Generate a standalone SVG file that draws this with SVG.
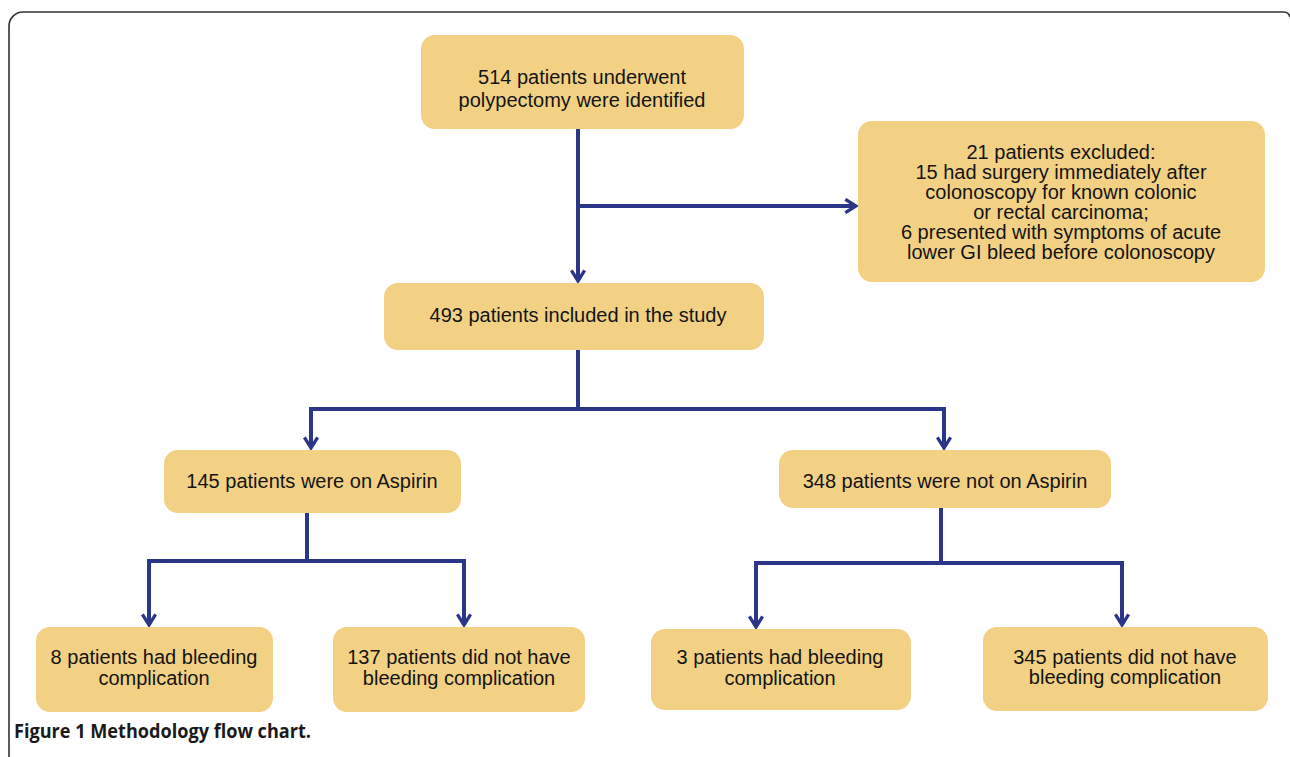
<svg xmlns="http://www.w3.org/2000/svg" width="1290" height="757" viewBox="0 0 1290 757">
<style>
.box{fill:#f2d184;}
.t{font-family:"Liberation Sans",Arial,sans-serif;font-size:20px;fill:#141414;text-anchor:middle;}
.c{fill:none;stroke:#2c3688;stroke-width:4;}
.cap{font-family:"Open Sans","Liberation Sans",sans-serif;font-size:20px;fill:#1a1a1a;font-weight:700;}
</style>
<defs>
<marker id="ah" viewBox="0 0 12 12" refX="10" refY="6" markerWidth="4" markerHeight="4" markerUnits="strokeWidth" orient="auto">
<path d="M2,1 L10,6 L2,11" fill="none" stroke="#2c3688" stroke-width="2.5" stroke-linejoin="miter"/>
</marker>
</defs>
<rect width="1290" height="757" fill="#ffffff"/>
<path d="M9,757 V26 A14,14 0 0 1 23,12 H1283 A7,7 0 0 1 1290,17" fill="none" stroke="#333" stroke-width="1.6"/>

<g id="connectors">
<path class="c" d="M578,129 V281" marker-end="url(#ah)"/>
<path class="c" d="M578,206 H856" marker-end="url(#ah)"/>
<path class="c" d="M578,350 V409"/>
<path class="c" d="M311,409 H944"/>
<path class="c" d="M311,407 V448" marker-end="url(#ah)"/>
<path class="c" d="M944,407 V448" marker-end="url(#ah)"/>
<path class="c" d="M307,513 V561"/>
<path class="c" d="M149,561 H464"/>
<path class="c" d="M149,559 V625" marker-end="url(#ah)"/>
<path class="c" d="M464,559 V625" marker-end="url(#ah)"/>
<path class="c" d="M941,508 V563"/>
<path class="c" d="M756,563 H1122"/>
<path class="c" d="M756,561 V627" marker-end="url(#ah)"/>
<path class="c" d="M1122,561 V625" marker-end="url(#ah)"/>
</g>

<g id="n514">
<rect class="box" x="421" y="35" width="323" height="94" rx="14"/>
<text class="t" x="582" y="84">514 patients underwent</text>
<text class="t" x="582" y="107">polypectomy were identified</text>
</g>
<g id="nexcl">
<rect class="box" x="858" y="121" width="407" height="161" rx="14"/>
<text class="t" x="1061" y="159">21 patients excluded:</text>
<text class="t" x="1061" y="179">15 had surgery immediately after</text>
<text class="t" x="1061" y="199">colonoscopy for known colonic</text>
<text class="t" x="1061" y="219">or rectal carcinoma;</text>
<text class="t" x="1061" y="239">6 presented with symptoms of acute</text>
<text class="t" x="1061" y="259">lower GI bleed before colonoscopy</text>
</g>
<g id="n493">
<rect class="box" x="384" y="283" width="380" height="67" rx="14"/>
<text class="t" x="578" y="322">493 patients included in the study</text>
</g>
<g id="n145">
<rect class="box" x="164" y="450" width="297" height="63" rx="14"/>
<text class="t" x="312" y="488">145 patients were on Aspirin</text>
</g>
<g id="n348">
<rect class="box" x="779" y="450" width="332" height="58" rx="14"/>
<text class="t" x="945" y="488">348 patients were not on Aspirin</text>
</g>
<g id="n8">
<rect class="box" x="36" y="627" width="237" height="85" rx="14"/>
<text class="t" x="154" y="664">8 patients had bleeding</text>
<text class="t" x="154" y="685">complication</text>
</g>
<g id="n137">
<rect class="box" x="333" y="627" width="252" height="85" rx="14"/>
<text class="t" x="459" y="664">137 patients did not have</text>
<text class="t" x="459" y="685">bleeding complication</text>
</g>
<g id="n3">
<rect class="box" x="651" y="629" width="260" height="81" rx="14"/>
<text class="t" x="780" y="664">3 patients had bleeding</text>
<text class="t" x="780" y="685">complication</text>
</g>
<g id="n345">
<rect class="box" x="983" y="627" width="285" height="84" rx="14"/>
<text class="t" x="1125" y="664">345 patients did not have</text>
<text class="t" x="1125" y="684">bleeding complication</text>
</g>
<text class="cap" x="14" y="738" textLength="297" lengthAdjust="spacingAndGlyphs">Figure 1 Methodology flow chart.</text>
</svg>
